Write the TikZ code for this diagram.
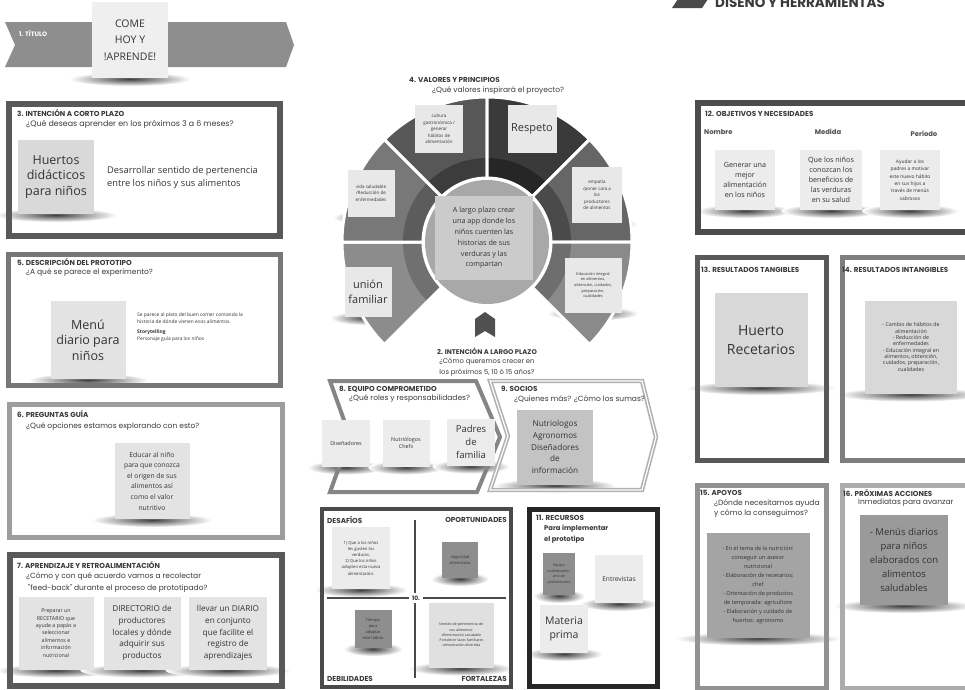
\documentclass[tikz,border=0pt]{standalone}
\usepackage{fontspec}
\setmainfont{Open Sans}
\newfontfamily\hd{Poppins}
\usetikzlibrary{calc}
\pgfdeclarelayer{back}
\pgfdeclarelayer{shd}
\pgfsetlayers{back,shd,main}
\definecolor{tcol}{HTML}{3A3A3A}
\definecolor{stxt}{HTML}{333333}
\definecolor{bannr}{HTML}{8E8E8E}
\definecolor{hdark}{HTML}{4A4A4A}
\definecolor{fD}{HTML}{595959}
\definecolor{fM}{HTML}{777777}
\definecolor{fL}{HTML}{9D9D9D}
\definecolor{sA}{HTML}{EFEFEF}
\definecolor{sB}{HTML}{D9D9D9}
\definecolor{sC}{HTML}{E3E3E3}
\definecolor{sD}{HTML}{E8E8E8}
\definecolor{sE}{HTML}{CBCBCB}
\definecolor{sF}{HTML}{ECECEC}
\definecolor{sG}{HTML}{C3C3C3}
\definecolor{sH}{HTML}{8E8E8E}
\definecolor{sI}{HTML}{E0E0E0}
\definecolor{sJ}{HTML}{D8D8D8}
\definecolor{sK}{HTML}{A4A4A4}
\definecolor{sL}{HTML}{9A9A9A}
\definecolor{wA}{HTML}{8C8C8C}\definecolor{wAi}{HTML}{707070}
\definecolor{wB}{HTML}{787878}\definecolor{wBi}{HTML}{5C5C5C}
\definecolor{wC}{HTML}{575757}\definecolor{wCi}{HTML}{3C3C3C}
\definecolor{wD}{HTML}{3A3A3A}\definecolor{wDi}{HTML}{262626}
\definecolor{wE}{HTML}{666666}\definecolor{wEi}{HTML}{4A4A4A}
\definecolor{wF}{HTML}{8A8A8A}\definecolor{wFi}{HTML}{6E6E6E}
\definecolor{ccirc}{HTML}{A8A8A8}
\definecolor{bmk}{HTML}{505050}
\newcommand\fsz[2]{\fontsize{#1}{#2}\selectfont}
\newcommand\mystk[8][]{%
  \begin{pgfonlayer}{shd}
    \shade[inner color=black!75, outer color=white] (#3,{#4+#6/2+1}) ellipse ({0.8*#5} and 7);
  \end{pgfonlayer}
  \node[sticky, fill=#7, minimum width=#5pt, minimum height=#6pt, #1] (#2) at (#3,#4) {#8};
}
\begin{document}
\begin{tikzpicture}[x=1pt,y=-1pt,
  ttl/.style={font=\hd\bfseries\fsz{7.2}{8.5}, text=tcol, inner sep=0pt, anchor=west},
  qst/.style={font=\hd\fsz{7.5}{9}, text=tcol, inner sep=0pt, anchor=west, align=left},
  sticky/.style={inner sep=0pt, align=center, text=stxt, font=\fsz{7}{9}},
  frm/.style={draw=#1, line width=5pt},
  body/.style={inner sep=0pt, text=stxt, align=left}]
\useasboundingbox (0,0) rectangle (965,689);
\begin{pgfonlayer}{back}\fill[white] (0,0) rectangle (965,689);\end{pgfonlayer}
\clip (0,0) rectangle (965,689);

% ---------- title banner ----------
\fill[bannr] (5,22) -- (286,22) -- (294,45) -- (286,67) -- (5,67) -- (15,45) -- cycle;
\node[ttl, text=white, font=\hd\bfseries\fsz{6.4}{7}] (t1) at (19,33) {1. TÍTULO};
\mystk[font=\fsz{10.5}{16.5}]{come}{130}{40}{76}{76}{sA}{COME\\HOY Y\\!APRENDE!}

% ---------- header ----------
\fill[hdark] (680,-4) -- (710,-4) -- (702,8) -- (672,8) -- cycle;
\node[font=\hd\bfseries\fsz{13.5}{15}, text=tcol, anchor=base west, inner sep=0pt] (hdr) at (715,7) {DISEÑO Y HERRAMIENTAS};

% ---------- section 3 ----------
\draw[frm=fD, line width=6pt] (9,104) rectangle (280,236);
\node[ttl] (t3) at (17,113) {3. INTENCIÓN A CORTO PLAZO};
\node[qst, font=\hd\fsz{7.9}{9}] (q3) at (26,124) {¿Qué deseas aprender en los próximos 3 a 6 meses?};
\mystk[font=\fsz{12.5}{15.5}]{hue}{56}{177}{76}{74}{sB}{Huertos\\didácticos\\para niños}
\node[body, anchor=west, font=\fsz{9.3}{13}] (txt3) at (107,178) {Desarrollar sentido de pertenencia\\entre los niños y sus alimentos};

% ---------- section 5 ----------
\draw[frm=fM] (8.5,254.5) rectangle (280.5,385.5);
\node[ttl] (t5) at (17,262) {5. DESCRIPCIÓN DEL PROTOTIPO};
\node[qst] (q5) at (26,273) {¿A qué se parece el experimento?};
\mystk[font=\fsz{12.5}{15.5}]{menu}{88}{340}{75}{78}{sC}{Menú\\diario para\\niños}
\node[body, anchor=north west, font=\fsz{4.9}{6.4}] (d5) at (137,313) {Se parece al plato del buen comer contando la\\historia de dónde vienen esos alimentos.\\[4pt]\textbf{Storytelling}\\Personaje guía para los niños};

% ---------- section 6 ----------
\draw[frm=fL] (9.5,404.5) rectangle (282.5,537.5);
\node[ttl] (t6) at (17,414) {6. PREGUNTAS GUÍA};
\node[qst] (q6) at (26,427) {¿Qué opciones estamos explorando con esto?};
\mystk[font=\fsz{6.8}{10.6}]{edu}{152}{481}{75}{76}{sC}{Educar al niño\\para que conozca\\el origen de sus\\alimentos así\\como el valor\\nutritivo}

% ---------- section 7 ----------
\draw[frm=fD, line width=6pt] (10,555) rectangle (282,686);
\node[ttl] (t7) at (17,565) {7. APRENDIZAJE Y RETROALIMENTACIÓN};
\node[qst] (q7a) at (26,577) {¿Cómo y con qué acuerdo vamos a recolectar};
\node[qst] (q7b) at (28,588) {"feed-back" durante el proceso de prototipado?};
\mystk[font=\fsz{5.3}{7.4}]{rec}{56}{633}{75}{73}{sC}{Preparar un\\RECETARIO que\\ayude a papás a\\seleccionar\\alimentos e\\información\\nutricional}
\mystk[font=\fsz{8.2}{11.6}]{dir}{142}{633}{77}{73}{sC}{DIRECTORIO de\\productores\\locales y dónde\\adquirir sus\\productos}
\mystk[font=\fsz{8.2}{11.6}]{dia}{228}{633}{78}{73}{sC}{llevar un DIARIO\\en conjunto\\que facilite el\\registro de\\aprendizajes}

% ---------- section 4 : wheel ----------
\node[ttl] (t4) at (409,80) {4. VALORES Y PRINCIPIOS};
\node[qst] (q4) at (432,91) {¿Qué valores inspirará el proyecto?};
\begin{scope}[shift={(487,242)}]
\foreach \a/\b/\co/\ci in {135/180/wA/wAi,180/225/wB/wBi,225/270/wC/wCi,270/315/wD/wDi,315/360/wE/wEi,0/45/wF/wFi}{
  \fill[\co] (\a:64) -- (\a:145) arc[start angle=\a,end angle=\b,radius=145] -- (\b:64) arc[start angle=\b,end angle=\a,radius=64] -- cycle;
  \fill[\ci] (\a:64) -- (\a:84) arc[start angle=\a,end angle=\b,radius=84] -- (\b:64) arc[start angle=\b,end angle=\a,radius=64] -- cycle;
  \draw[white,line width=3pt,line join=round] (\a:64) -- (\a:145) arc[start angle=\a,end angle=\b,radius=145] -- (\b:64) arc[start angle=\b,end angle=\a,radius=64] -- cycle;
}
\fill[ccirc] (0,0) circle (62);
\end{scope}
\mystk[font=\fsz{4.5}{6.6}]{cul}{439}{129}{48}{48}{sD}{cultura\\gastronómica /\\generar\\hábitos de\\alimentación}
\mystk[font=\fsz{11}{13}]{res}{532}{129}{49}{48}{sD}{Respeto}
\mystk[font=\fsz{4.5}{6.6}]{vid}{371}{193}{47}{47}{sD}{vida saludable\\/Reducción de\\enfermedades}
\mystk[font=\fsz{4.5}{6.6}]{emp}{597}{195}{50}{56}{sD}{empatía\\/poner cara a\\los\\productores\\de alimentos}
\mystk[font=\fsz{11}{15}]{uni}{368}{292}{47}{50}{sD}{unión\\familiar}
\mystk[font=\fsz{3.9}{5.6}]{edi}{593}{285}{57}{55}{sD}{Educación integral\\en alimentos,\\obtención, cuidados,\\preparación,\\cualidades}
\mystk[font=\fsz{7.2}{10.8}]{app}{484}{238}{98}{84}{sE}{A largo plazo crear\\una app donde los\\niños cuenten las\\historias de sus\\verduras y las\\compartan}
\fill[bmk] (475,319) -- (485,312) -- (495,319) -- (495,337) -- (485,331) -- (475,337) -- cycle;
\node[ttl, anchor=center, font=\hd\bfseries\fsz{6.8}{8}] (t2) at (487,351) {2. INTENCIÓN A LARGO PLAZO};
\node[qst, anchor=center, font=\hd\fsz{6.8}{8}] (q2a) at (487,362) {¿Cómo queremos crecer en};
\node[qst, anchor=center, font=\hd\fsz{6.8}{8}] (q2b) at (487,373) {los próximos 5, 10 ó 15 años?};

% ---------- sections 8 and 9 ----------
\draw[draw=fM!90, line width=4pt, line join=miter] (330,381) -- (476,381) -- (500,437) -- (477,492) -- (330,492) -- (350,437) -- cycle;
\draw[draw=fL!80, line width=1.6pt, double=white, double distance=1.2pt] (490,381) -- (642,381) -- (656,437) -- (642,490) -- (490,490) -- (508,436) -- cycle;
\node[ttl] (t8) at (339,389) {8. EQUIPO COMPROMETIDO};
\node[qst] (q8) at (349,399) {¿Qué roles y responsabilidades?};
\node[ttl] (t9) at (501,389) {9. SOCIOS};
\node[qst] (q9) at (514,399) {¿Quienes más? ¿Cómo los sumas?};
\mystk[font=\fsz{5.4}{7}]{dis}{346}{443}{48}{47}{sF}{Diseñadores}
\mystk[font=\fsz{5.4}{7.4}]{nut}{406}{443}{47}{47}{sF}{Nutriólogos\\Chefs}
\mystk[font=\fsz{9.5}{13}]{pad}{471}{442}{48}{47}{sF}{Padres\\de\\familia}
\mystk[font=\fsz{8.2}{11.6}]{soc}{555}{447}{76}{75}{sG}{Nutriologos\\Agronomos\\Diseñadores\\de\\información}

% ---------- section 10 ----------
\draw[draw=hdark, line width=4pt] (322,509) rectangle (511,687);
\node[ttl] (des10) at (327,520) {DESAFÍOS};
\node[ttl, anchor=east] (opo10) at (507,520) {OPORTUNIDADES};
\node[ttl] (deb10) at (327,679) {DEBILIDADES};
\node[ttl, anchor=east] (for10) at (507,679) {FORTALEZAS};
\node[font=\hd\bfseries\fsz{6}{7}, text=tcol, inner sep=3pt] (ten) at (416,598) {10.};
\draw[hdark, line width=2.5pt] (327,598) -- (ten.west);
\draw[hdark, line width=2.5pt] (ten.east) -- (506,598);
\draw[hdark, line width=2.5pt] (415,520) -- (ten.north -| 415,0);
\draw[hdark, line width=2.5pt] (ten.south -| 415,0) -- (415,678);
\mystk[font=\fsz{4.2}{6.2}]{des}{361}{558}{58}{62}{sF}{1) Que a los niños\\les gusten los\\verduras.\\2) Que los niños\\adopten esta nueva\\alimentación.}
\mystk[font=\fsz{4}{5.6}]{seg}{460}{560}{36}{36}{sH}{Seguridad\\alimentaria}
\mystk[font=\fsz{4}{5.8}]{tie}{373}{629}{37}{38}{sH}{Tiempo\\para\\adoptar\\este hábito}
\mystk[font=\fsz{3.6}{5.2}]{fort}{461}{635}{65}{65}{sI}{Sentido de pertenencia de\\sus alimentos\\-Alimentación saludable\\-Fortalecer lazos familiares\\-alimentación divertida}

% ---------- section 11 ----------
\draw[draw=black!85, line width=5pt] (529.5,509.5) rectangle (657.5,686.5);
\node[ttl] (t11) at (536,518) {11. RECURSOS};
\node[qst, font=\hd\bfseries\fsz{6.8}{8}] (q11a) at (544,529) {Para implementar};
\node[qst, font=\hd\bfseries\fsz{6.8}{8}] (q11b) at (544,540) {el prototipo};
\mystk[font=\fsz{3.6}{5.4}]{equ}{559}{574}{32}{42}{sH}{Equipo\\multidisciplin-\\ario de\\profesionales}
\mystk[font=\fsz{6.6}{8}]{ent}{619}{579}{48}{48}{sF}{Entrevistas}
\mystk[font=\fsz{10.5}{14}]{mat}{564}{629}{48}{48}{sF}{Materia\\prima}

% ---------- section 12 ----------
\draw[draw=black!70, line width=6pt] (698,103) rectangle (982,232);
\node[ttl] (t12) at (705,114) {12. OBJETIVOS Y NECESIDADES};
\node[ttl, font=\hd\bfseries\fsz{6.8}{8}, text=tcol!90] (nom) at (704,132) {Nombre};
\node[ttl, font=\hd\bfseries\fsz{6.8}{8}, text=tcol!90, anchor=center] (med) at (828,132) {Medida};
\node[ttl, font=\hd\bfseries\fsz{6.8}{8}, text=tcol!90, anchor=center] (per) at (924,134) {Periodo};
\mystk[font=\fsz{7.2}{10}]{gen}{745}{180}{60}{60}{sF}{Generar una\\mejor\\alimentación\\en los niños}
\mystk[font=\fsz{7.2}{10}]{que}{831}{180}{62}{60}{sF}{Que los niños\\conozcan los\\beneficios de\\las verduras\\en su salud}
\mystk[font=\fsz{4.9}{7.3}]{ayu}{910}{180}{60}{60}{sF}{Ayudar a los\\padres a motivar\\este nuevo hábito\\en sus hijos a\\través de menús\\sabrosos}

% ---------- sections 13 and 14 ----------
\draw[draw=fD, line width=5pt] (697.5,257.5) rectangle (826.5,460.5);
\node[ttl] (t13) at (701,270) {13. RESULTADOS TANGIBLES};
\mystk[font=\fsz{14}{19}]{hre}{761}{340}{93}{94}{sJ}{Huerto\\Recetarios}
\draw[draw=fM!95, line width=5pt] (842.5,257.5) rectangle (982,460.5);
\node[ttl] (t14) at (842,270) {14. RESULTADOS INTANGIBLES};
\mystk[font=\fsz{5.3}{6.3}]{int}{911}{347}{92}{93}{sJ}{- Cambio de hábitos de\\alimentación\\- Reducción de\\enfermedades\\- Educación integral en\\alimentos, obtención,\\cuidados, preparación,\\cualidades}

% ---------- sections 15 and 16 ----------
\draw[draw=fM!80!white, line width=5pt] (697.5,485.5) rectangle (826.5,688);
\node[ttl] (t15) at (700,493) {15. APOYOS};
\node[qst] (q15a) at (714,503) {¿Dónde necesitamos ayuda};
\node[qst] (q15b) at (714,514) {y cómo la conseguimos?};
\mystk[font=\fsz{5.6}{9.1}]{apo}{758}{585}{103}{105}{sK}{- En el tema de la nutrición:\\conseguir un asesor\\nutricional\\- Elaboración de recetarios:\\chef\\- Orientación de productos\\de temporada: agricultore\\- Elaboración y cuidado de\\huertos: agronomo}
\draw[draw=fL!85, line width=5pt] (842.5,485.5) rectangle (982,688);
\node[ttl] (t16) at (843,493) {16. PRÓXIMAS ACCIONES};
\node[qst] (q16) at (858,503) {Inmediatas para avanzar};
\mystk[font=\fsz{9.5}{14}]{men}{904}{560}{88}{90}{sL}{- Menús diarios\\para niños\\elaborados con\\alimentos\\saludables}
\end{tikzpicture}
\end{document}
